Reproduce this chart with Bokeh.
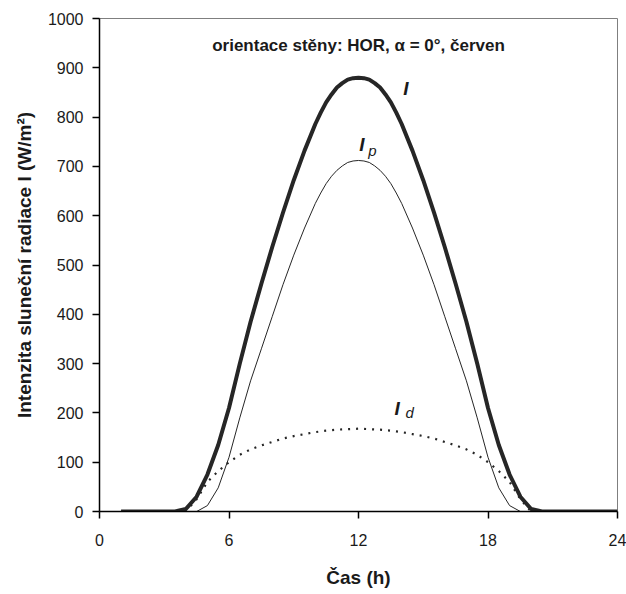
from bokeh.plotting import figure
from bokeh.models import Label, FixedTicker, Range1d
from bokeh.embed import file_html
from bokeh.resources import INLINE

# ---- data ----
hours = [1.0, 1.5, 2.0, 2.5, 3.0, 3.5, 4.0, 4.5, 5.0, 5.5, 6.0, 6.5, 7.0, 7.5,
         8.0, 8.5, 9.0, 9.5, 10.0, 10.25, 10.5, 10.75, 11.0, 11.25, 11.5, 11.75,
         12.0, 12.25, 12.5, 12.75, 13.0, 13.25, 13.5, 13.75,
         14.0, 14.5, 15.0, 15.5, 16.0, 16.5, 17.0, 17.5, 18.0, 18.5, 19.0,
         19.5, 20.0, 20.5, 21.0, 21.5, 22.0, 22.5, 23.0, 23.5, 24.0]

# total radiation I
I_total = [0, 0, 0, 0, 0, 0, 5, 30, 75, 135, 210, 300, 385, 462,
           536, 606, 672, 732, 786, 809, 830, 846, 860, 869, 876, 879,
           880, 879, 876, 869, 860, 846, 830, 809,
           786, 732, 672, 606, 536, 462, 385, 300, 210, 135, 75,
           30, 5, 0, 0, 0, 0, 0, 0, 0, 0]

# direct radiation I_p
I_direct = [0, 0, 0, 0, 0, 0, 0, 0, 12, 48, 110, 190, 265, 330,
            395, 460, 520, 575, 625, 646, 665, 680, 692, 701, 708, 711,
            712, 711, 708, 701, 692, 680, 665, 646,
            625, 575, 520, 460, 395, 330, 265, 190, 110, 48, 12,
            0, 0, 0, 0, 0, 0, 0, 0, 0, 0]

# diffuse radiation I_d
I_diffuse = [0, 0, 0, 0, 0, 0, 0, 25, 60, 82, 100, 115, 126, 134,
             141, 148, 153, 157, 161, 162.5, 164, 165, 166, 166.5, 167, 167.5,
             168, 167.5, 167, 166.5, 166, 165, 164, 162.5,
             161, 157, 153, 148, 141, 134, 126, 115, 100, 82, 60,
             25, 0, 0, 0, 0, 0, 0, 0, 0, 0]

x_ticks = [0, 6, 12, 18, 24]
y_ticks = [0, 100, 200, 300, 400, 500, 600, 700, 800, 900, 1000]

title_text = "orientace stěny: HOR, α = 0°, červen"
x_label = "Čas (h)"
y_label = "Intenzita sluneční radiace I (W/m²)"

FONT = "Liberation Sans"
LINE = "#262626"
TXT = "#1a1a1a"

p = figure(width=626, height=594, x_range=Range1d(0, 24), y_range=Range1d(0, 1000),
           output_backend="svg", toolbar_location=None,
           min_border_left=99, min_border_right=9,
           min_border_top=18, min_border_bottom=83)

p.xgrid.visible = False
p.ygrid.visible = False
p.background_fill_color = "white"
p.border_fill_color = "white"
p.outline_line_color = "#7f7f7f"
p.outline_line_width = 1

p.xaxis.ticker = FixedTicker(ticks=x_ticks)
p.yaxis.ticker = FixedTicker(ticks=y_ticks)
for ax in (p.xaxis[0], p.yaxis[0]):
    ax.axis_line_color = "black"
    ax.axis_line_width = 1.5
    ax.major_tick_line_color = "black"
    ax.major_tick_line_width = 1.5
    ax.major_tick_out = 7
    ax.major_tick_in = 0
    ax.minor_tick_line_color = None
    ax.major_label_text_font = FONT
    ax.major_label_text_font_size = "16px"
    ax.major_label_text_color = TXT
    ax.axis_label_text_font = FONT
    ax.axis_label_text_font_size = "19px"
    ax.axis_label_text_font_style = "bold"
    ax.axis_label_text_color = TXT

p.xaxis.major_label_standoff = 15
p.yaxis.major_label_standoff = 9

p.yaxis.axis_label = y_label
p.yaxis.axis_label_standoff = 10
p.xaxis.axis_label = x_label
p.xaxis.axis_label_standoff = 18

# curves
p.line(hours, I_total, line_color=LINE, line_width=4, line_join="round")
p.line(hours, I_direct, line_color=LINE, line_width=1, line_join="round")
p.line(hours, I_diffuse, line_color=LINE, line_width=2.2, line_dash="2 6")

# texts
p.add_layout(Label(x=12, y=945, text=title_text, text_align="center",
                   text_baseline="middle", text_font=FONT, text_font_size="17px",
                   text_font_style="bold", text_color=TXT))

p.add_layout(Label(x=14.2, y=858, text="I", text_align="center", text_baseline="middle",
                   text_font=FONT, text_font_size="19px", text_font_style="bold italic",
                   text_color=TXT))
p.add_layout(Label(x=12.16, y=745, text="I", text_align="center", text_baseline="middle",
                   text_font=FONT, text_font_size="19px", text_font_style="bold italic",
                   text_color=TXT))
p.add_layout(Label(x=12.65, y=732, text="p", text_align="center", text_baseline="middle",
                   text_font=FONT, text_font_size="15px", text_font_style="italic",
                   text_color=TXT))
p.add_layout(Label(x=13.79, y=209, text="I", text_align="center", text_baseline="middle",
                   text_font=FONT, text_font_size="19px", text_font_style="bold italic",
                   text_color=TXT))
p.add_layout(Label(x=14.37, y=200, text="d", text_align="center", text_baseline="middle",
                   text_font=FONT, text_font_size="15px", text_font_style="italic",
                   text_color=TXT))

open("out.html", "w").write(file_html(p, INLINE))
